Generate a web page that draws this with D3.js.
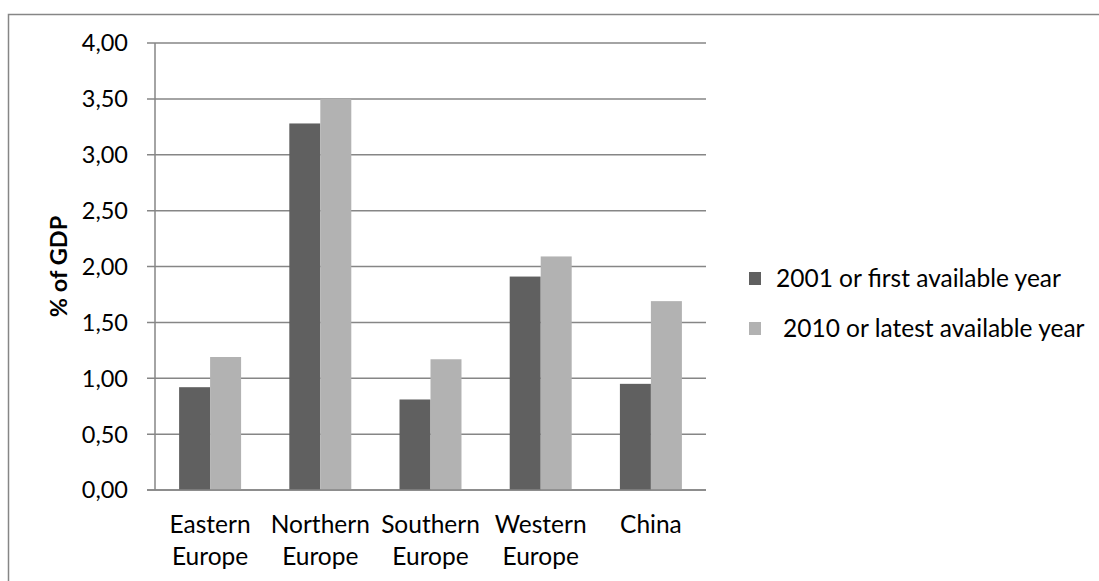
<!DOCTYPE html>
<html>
<head>
<meta charset="utf-8">
<script src="https://cdn.jsdelivr.net/npm/d3@7"></script>
<style>
  html, body { margin: 0; padding: 0; background: #fff; }
  svg { display: block; }
  text { font-family: Lato, "Open Sans", sans-serif; fill: #000; }
</style>
</head>
<body>
<svg id="chart" width="1099" height="581"></svg>
<script>
// Regions and the two measured years
const categories = [["Eastern", "Europe"], ["Northern", "Europe"], ["Southern", "Europe"], ["Western", "Europe"], ["China"]];
const seriesNames = ["2001 or first available year", "2010 or latest available year"];
const firstYear = [0.92, 3.28, 0.81, 1.91, 0.95];
const latestYear = [1.19, 3.50, 1.17, 2.09, 1.69];
const yTicks = [0, 0.5, 1, 1.5, 2, 2.5, 3, 3.5, 4];
const colors = ["#606060", "#b2b2b2"];

const svg = d3.select("#chart");
const plot = { left: 155, right: 706, top: 43, bottom: 490 };
const gridColor = "#868686";
const fontSize = 24.5;
const tickFontSize = 23.5;

// outer chart frame
svg.append("rect")
  .attr("x", 8.5).attr("y", 14.5)
  .attr("width", 1200).attr("height", 700)
  .attr("fill", "none").attr("stroke", gridColor).attr("stroke-width", 1.5);

const labels = categories.map(c => c.join(" "));
const x = d3.scaleBand().domain(labels)
  .range([plot.left, plot.right])
  .paddingInner(0.4375).paddingOuter(0.21875);
const xs = d3.scaleBand().domain([0, 1]).range([0, x.bandwidth()]);
const y = d3.scaleLinear().domain([0, 4]).range([plot.bottom, plot.top]);

const fmt = v => d3.format(".2f")(v).replace(".", ",");

// horizontal gridlines with their small left ticks
svg.append("g")
  .selectAll("line").data(yTicks).join("line")
  .attr("x1", plot.left - 8).attr("x2", plot.right)
  .attr("y1", d => y(d)).attr("y2", d => y(d))
  .attr("stroke", gridColor).attr("stroke-width", 1.5);

// vertical axis line
svg.append("line")
  .attr("x1", plot.left).attr("x2", plot.left)
  .attr("y1", y(4)).attr("y2", y(0))
  .attr("stroke", gridColor).attr("stroke-width", 1.5);

// tick labels
svg.append("g")
  .selectAll("text").data(yTicks).join("text")
  .attr("x", 128).attr("y", d => y(d))
  .attr("dy", "0.36em")
  .attr("text-anchor", "end")
  .style("font-size", tickFontSize + "px")
  .text(fmt);

// bars
const series = [firstYear, latestYear];
series.forEach((vals, si) => {
  svg.append("g")
    .selectAll("rect").data(vals).join("rect")
    .attr("x", (d, i) => x(labels[i]) + xs(si))
    .attr("width", xs.bandwidth())
    .attr("y", d => y(d))
    .attr("height", d => y(0) - y(d))
    .attr("fill", colors[si]);
});

// redraw baseline above bars
svg.append("line")
  .attr("x1", plot.left - 8).attr("x2", plot.right)
  .attr("y1", y(0)).attr("y2", y(0))
  .attr("stroke", gridColor).attr("stroke-width", 1.5);

// category labels (two lines)
const catG = svg.append("g");
categories.forEach((lines, i) => {
  const t = catG.append("text")
    .attr("x", x(labels[i]) + x.bandwidth() / 2)
    .attr("y", 533)
    .attr("text-anchor", "middle")
    .style("font-size", fontSize + "px");
  lines.forEach((ln, j) => {
    t.append("tspan")
      .attr("x", x(labels[i]) + x.bandwidth() / 2)
      .attr("dy", j === 0 ? 0 : 32)
      .text(ln);
  });
});

// y-axis title
svg.append("text")
  .attr("transform", `translate(67,${(y(0) + y(4)) / 2}) rotate(-90)`)
  .attr("text-anchor", "middle")
  .style("font-size", (fontSize - 1) + "px")
  .style("font-weight", "bold")
  .text("% of GDP");

// legend
const legendRows = [
  { name: seriesNames[0], color: colors[0], cy: 278.5, tx: 776 },
  { name: seriesNames[1], color: colors[1], cy: 328.5, tx: 783 }
];
const lg = svg.append("g");
legendRows.forEach(r => {
  lg.append("rect")
    .attr("x", 749).attr("y", r.cy - 6.5)
    .attr("width", 12).attr("height", 13)
    .attr("fill", r.color);
  lg.append("text")
    .attr("x", r.tx).attr("y", r.cy)
    .attr("dy", "0.36em")
    .style("font-size", fontSize + "px")
    .text(r.name);
});
</script>
</body>
</html>
